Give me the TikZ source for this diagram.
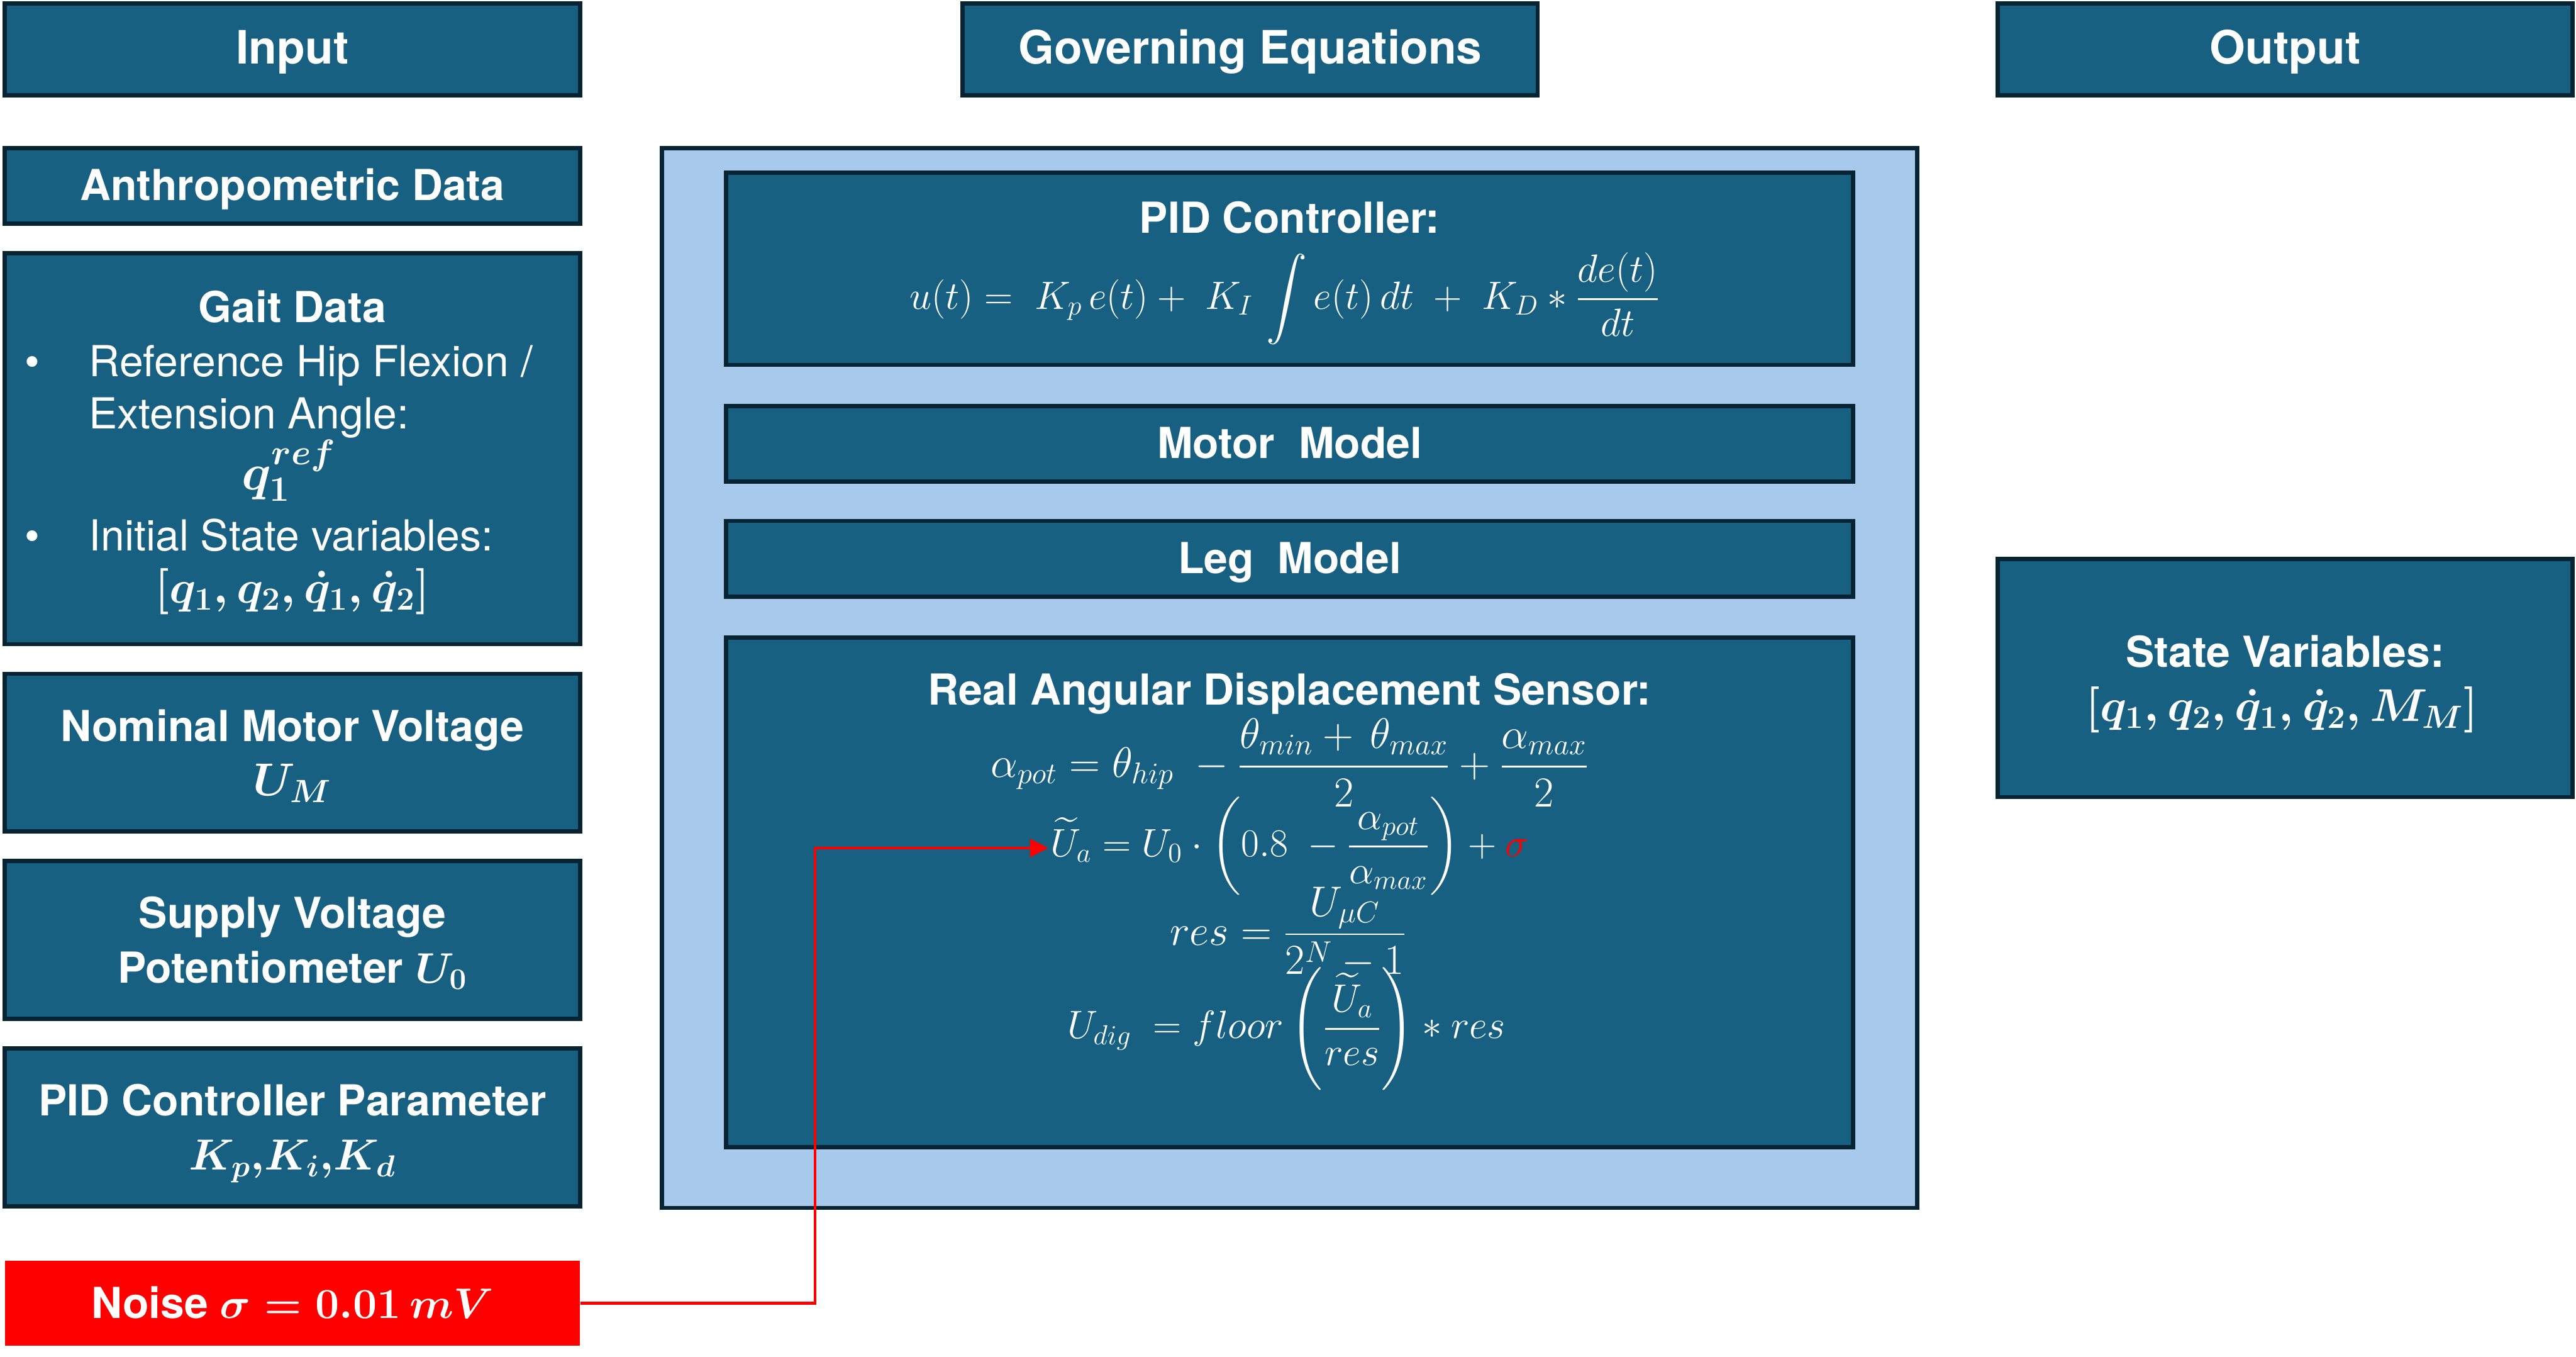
\RequirePackage{fix-cm}
\documentclass[tikz,border=0pt]{standalone}
\usepackage{amsmath}
\usepackage{fontspec}
\setmainfont{TeX Gyre Heros}
\usetikzlibrary{arrows.meta}
\definecolor{boxblue}{RGB}{24,96,130}
\definecolor{boxline}{RGB}{8,36,51}
\definecolor{lightbg}{RGB}{166,201,236}
\definecolor{noisered}{RGB}{255,0,0}
\newcommand\fHdr{\fontsize{28}{34}\selectfont\bfseries}
\newcommand\fTtl{\fontsize{26}{31}\selectfont\bfseries}
\newcommand\fBdy{\fontsize{26}{31}\selectfont}
\newcommand\fEq{\fontsize{24}{29}\selectfont}
\newcommand\fEqL{\fontsize{26}{31}\selectfont}
\newcommand\fEqB{\fontsize{28}{33}\selectfont\boldmath}
\newcommand\fEqBL{\fontsize{31}{36}\selectfont\boldmath}
\newcommand\fEqBS{\fontsize{26.5}{31}\selectfont\boldmath}
\begin{document}
\begin{tikzpicture}[x=1pt,y=-1pt,
  box/.style={draw=boxline, line width=2.6pt, fill=boxblue, inner sep=0pt},
  outerbox/.style={draw=boxline, line width=2.6pt, fill=lightbg, inner sep=0pt},
  noisebox/.style={draw=none, fill=noisered, inner sep=0pt},
  txt/.style={text=white, inner sep=0pt, anchor=base},
  ltxt/.style={text=white, inner sep=0pt, anchor=base west, font=\fBdy},
  redarrow/.style={draw=noisered, line width=1.6pt, -{Triangle[length=11pt,width=11pt]}}]
\useasboundingbox (0,0) rectangle (1568,825.5);
% headers
\node[box, minimum width=350, minimum height=56] (input) at (178,30) {};
\node[box, minimum width=350, minimum height=56] (gov) at (761,30) {};
\node[box, minimum width=350, minimum height=56] (output) at (1391,30) {};
\node[txt, font=\fHdr] (inputT) at (178,39) {Input};
\node[txt, font=\fHdr] (govT) at (761,39) {Governing Equations};
\node[txt, font=\fHdr] (outputT) at (1391,39) {Output};
% input column
\node[box, minimum width=350, minimum height=46] (anthro) at (178,113) {};
\node[txt, font=\fTtl] (anthroT) at (178,122) {Anthropometric Data};
\node[box, minimum width=350, minimum height=238] (gait) at (178,273) {};
\node[txt, font=\fTtl] (gaitT) at (178,196) {Gait Data};
\node[ltxt] (gaitB1) at (15,229) {\textbullet};
\node[ltxt] (gaitL1) at (54,229) {Reference Hip Flexion /};
\node[ltxt] (gaitL2) at (54,261) {Extension Angle:};
\node[txt, font=\fEqBL] (gaitQ) at (176,298) {$q_1^{ref}$};
\node[ltxt] (gaitB2) at (15,335) {\textbullet};
\node[ltxt] (gaitL3) at (54,335) {Initial State variables:};
\node[txt, font=\fEqB] (gaitS) at (178,367) {$[q_1{,}\, q_2{,}\, \dot q_1{,}\, \dot q_2]$};
\node[box, minimum width=350, minimum height=96] (nominal) at (178,458) {};
\node[txt, font=\fTtl] (nominalT) at (178,451) {Nominal Motor Voltage};
\node[txt, font=\fEqB] (nominalM) at (178,484) {$U_M$};
\node[box, minimum width=350, minimum height=96] (supply) at (178,572) {};
\node[txt, font=\fTtl] (supplyT) at (178,565) {Supply Voltage};
\node[txt, font=\fTtl] (supplyM) at (178,598) {Potentiometer {\boldmath$U_0$}};
\node[box, minimum width=350, minimum height=96] (pidpar) at (178,686) {};
\node[txt, font=\fTtl] (pidparT) at (178,679) {PID Controller Parameter};
\node[txt, font=\fEqBS] (pidparM) at (178,712) {$K_p{,}K_i{,}K_d$};
\node[noisebox, minimum width=350, minimum height=52] (noise) at (178,793) {};
\node[txt, font=\fTtl] (noiseT) at (178,802) {Noise {\boldmath$\sigma = 0.01\,mV$}};
% governing equations
\node[outerbox, minimum width=764, minimum height=645] (outer) at (785,412.5) {};
\node[box, minimum width=686, minimum height=117] (pid) at (785,163.5) {};
\node[txt, font=\fTtl] (pidT) at (785,142) {PID Controller:};
\node[txt, font=\fEq] (pidE) at (782,188) {$u(t) =\; K_p\, e(t) +\; K_I\, \displaystyle\int e(t)\, dt \;+\; K_D * \frac{de(t)}{dt}$};
\node[box, minimum width=686, minimum height=46] (motor) at (785,270) {};
\node[txt, font=\fTtl] (motorT) at (785,279) {Motor\ \ Model};
\node[box, minimum width=686, minimum height=46] (leg) at (785,340) {};
\node[txt, font=\fTtl] (legT) at (785,349) {Leg\ \ Model};
\node[box, minimum width=686, minimum height=310] (sensor) at (785,543) {};
\node[txt, font=\fTtl] (sensorT) at (785,429) {Real Angular Displacement Sensor:};
\node[txt, font=\fEqL] (eqA) at (785,473) {$\alpha_{pot} = \theta_{hip}\; - \dfrac{\theta_{min} +\, \theta_{max}}{2} + \dfrac{\alpha_{max}}{2}$};
\node[txt, font=\fEq] (eqB) at (785,521) {$\widetilde{U}_a = U_0\cdot\left(0.8\; - \dfrac{\alpha_{pot}}{\alpha_{max}}\right) + {\color{noisered}\sigma}$};
\node[txt, font=\fEqL] (eqC) at (784,575) {$res = \dfrac{U_{\mu C}}{2^N - 1}$};
\node[txt, font=\fEq] (eqD) at (783,632) {$U_{dig} \;= floor\left(\dfrac{\widetilde{U}_a}{res}\right) * res$};
% output
\node[box, minimum width=350, minimum height=145] (state) at (1391,412.5) {};
\node[txt, font=\fTtl] (stateT) at (1391,406) {State Variables:};
\node[txt, font=\fEqB] (stateM) at (1389,439) {$[q_1{,}\, q_2{,}\, \dot q_1{,}\, \dot q_2{,}\, M_M]$};
% noise connector
\coordinate (bend) at (496,793);
\coordinate (tip) at (638,516);
\draw[redarrow] (noise.east) -- (bend) |- (tip);
\end{tikzpicture}
\end{document}
